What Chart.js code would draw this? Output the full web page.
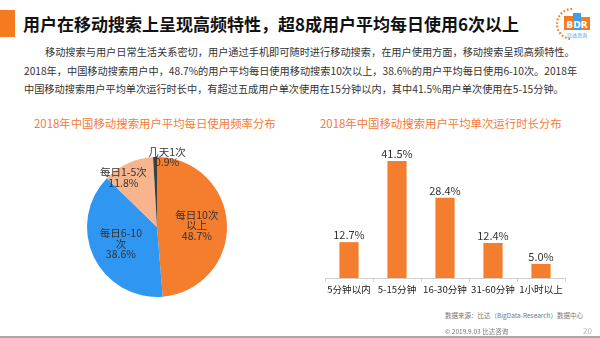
<!DOCTYPE html>
<html>
<head>
<meta charset="utf-8">
<script src="https://cdn.jsdelivr.net/npm/chart.js@4.4.1/dist/chart.umd.min.js"></script>
<style>
  html, body { margin:0; padding:0; background:#fff; }
  body { width:600px; height:338px; position:relative; overflow:hidden; font-family:"Noto Sans CJK SC","Noto Sans",sans-serif; }
  .abs { position:absolute; white-space:nowrap; }
  #bar-block { left:0; top:10px; width:15px; height:27px; background:#F47B20; }
  #title { left:23px; top:12px; font-size:17px; font-weight:bold; color:#111; line-height:24px; }
  #para { left:24px; top:43px; font-size:10.2px; color:#333; line-height:18.5px; }
  .ctitle { font-size:11.4px; color:#F47B3A; line-height:16px; }
  #ptitle { left:34px; top:115px; }
  #btitle { left:320px; top:115px; }
  #pieWrap { left:57px; top:127px; width:200px; height:200px; }
  #barWrap { left:300px; top:135px; width:290px; height:170px; }
  .foot { font-size:6.5px; color:#777; line-height:9px; }
  #src { left:445px; top:311px; }
  #copy { left:445px; top:327px; }
  #page { left:583px; top:325px; font-size:8px; color:#bbb; }
  #bottomline { left:0; top:336px; width:600px; height:2px; background:#a8a8a8; }
</style>
</head>
<body>
<div id="bar-block" class="abs"></div>
<div id="title" class="abs">用户在移动搜索上呈现高频特性，超8成用户平均每日使用6次以上</div>
<svg class="abs" style="left:552px;top:6px" width="44" height="36" viewBox="0 0 44 36">
  <path d="M20 3 A15 15 0 1 0 20 33" fill="none" stroke="#F47B20" stroke-width="2.2" stroke-dasharray="1.6 2"/>
  <rect x="12" y="10" width="9" height="14" fill="#F47B20"/>
  <rect x="21" y="7" width="8" height="17" fill="#3BA0F0"/>
  <rect x="29" y="11" width="9" height="13" fill="#F47B20"/>
  <text x="25" y="22" font-size="9" font-weight="bold" fill="#fff" text-anchor="middle" font-family="DejaVu Sans">BDR</text>
  <text x="25" y="31" font-size="5" fill="#3BA0F0" text-anchor="middle" font-family="Noto Sans CJK SC">比达咨询</text>
</svg>
<div id="para" class="abs"><span style="padding-left:21px">移动搜索与用户日常生活关系密切，用户通过手机即可随时进行移动搜索，在用户使用方面，移动搜索呈现高频特性。</span><br>2018年，中国移动搜索用户中，48.7%的用户平均每日使用移动搜索10次以上，38.6%的用户平均每日使用6-10次。2018年<br>中国移动搜索用户平均单次运行时长中，有超过五成用户单次使用在15分钟以内，其中41.5%用户单次使用在5-15分钟。</div>
<div id="ptitle" class="abs ctitle">2018年中国移动搜索用户平均每日使用频率分布</div>
<div id="btitle" class="abs ctitle">2018年中国移动搜索用户平均单次运行时长分布</div>
<div id="pieWrap" class="abs"><canvas id="pie" width="200" height="200"></canvas></div>
<div id="barWrap" class="abs"><canvas id="bar" width="290" height="170"></canvas></div>
<div id="src" class="abs foot">数据来源：比达（BigData-Research）数据中心</div>
<div id="copy" class="abs foot">© 2019.9.03 比达咨询</div>
<div id="page" class="abs">20</div>
<div id="bottomline" class="abs"></div>
<script>
// ---- data ----
const pieCategories = ['每日10次以上', '每日6-10次', '每日1-5次', '几天1次'];
const pieLabelLines = [['每日10次', '以上'], ['每日6-10', '次'], ['每日1-5次'], ['几天1次']];
const pieValues = [48.7, 38.6, 11.8, 0.9];
const pieColors = ['#F47D2E', '#2F97F2', '#F8B48C', '#3A3F45'];

const barCategories = ['5分钟以内', '5-15分钟', '16-30分钟', '31-60分钟', '1小时以上'];
const barValues = [12.7, 41.5, 28.4, 12.4, 5.0];
const barColor = '#F47D2E';

const FONT = '"Noto Sans CJK SC", "Noto Sans", sans-serif';

// ---- pie labels plugin ----
const pieLabelLayout = [
  { r: 0.57, dx: 0, dy: 0 },
  { r: 0.57, dx: 0, dy: 0 },
  { r: 0.78, dx: -11, dy: 0 },
  { r: 1.0, dx: 12, dy: 0 }
];
const pieLabelPlugin = {
  id: 'pieLabels',
  afterDatasetsDraw(chart) {
    const ctx = chart.ctx;
    const meta = chart.getDatasetMeta(0);
    ctx.save();
    ctx.font = '10.5px ' + FONT;
    ctx.fillStyle = '#333';
    ctx.textAlign = 'center';
    ctx.textBaseline = 'middle';
    meta.data.forEach((arc, i) => {
      const p = arc.getProps(['x', 'y', 'startAngle', 'endAngle', 'outerRadius']);
      const mid = (p.startAngle + p.endAngle) / 2;
      const L = pieLabelLayout[i];
      const cx = p.x + Math.cos(mid) * p.outerRadius * L.r + L.dx;
      const cy = p.y + Math.sin(mid) * p.outerRadius * L.r + L.dy;
      const lines = pieLabelLines[i].concat([pieValues[i].toFixed(1) + '%']);
      const lh = 10.5;
      const y0 = cy - (lines.length - 1) * lh / 2;
      lines.forEach((t, k) => ctx.fillText(t, cx, y0 + k * lh));
    });
    ctx.restore();
  }
};

new Chart(document.getElementById('pie'), {
  type: 'pie',
  data: {
    labels: pieCategories,
    datasets: [{ data: pieValues, backgroundColor: pieColors, borderWidth: 0 }]
  },
  options: {
    responsive: false,
    animation: false,
    layout: { padding: 30 },
    plugins: { legend: { display: false }, tooltip: { enabled: false } }
  },
  plugins: [pieLabelPlugin]
});

// ---- bar value labels ----
const barLabelPlugin = {
  id: 'barLabels',
  afterDatasetsDraw(chart) {
    const ctx = chart.ctx;
    const meta = chart.getDatasetMeta(0);
    ctx.save();
    ctx.font = '11px ' + FONT;
    ctx.fillStyle = '#333';
    ctx.textAlign = 'center';
    ctx.textBaseline = 'bottom';
    meta.data.forEach((bar, i) => {
      ctx.fillText(barValues[i].toFixed(1) + '%', bar.x, bar.y - 2);
    });
    ctx.restore();
  }
};

new Chart(document.getElementById('bar'), {
  type: 'bar',
  data: {
    labels: barCategories,
    datasets: [{ data: barValues, backgroundColor: barColor, barPercentage: 0.4, categoryPercentage: 1.0 }]
  },
  options: {
    responsive: false,
    animation: false,
    layout: { padding: { left: 25, right: 25, top: 16, bottom: 7 } },
    plugins: { legend: { display: false }, tooltip: { enabled: false } },
    scales: {
      x: {
        afterFit(scale) { scale.height = 20; },
        grid: { display: true, drawOnChartArea: false, drawTicks: true, tickLength: 4, color: '#d0d0d0', offset: true },
        border: { display: true, color: '#d0d0d0' },
        ticks: { color: '#222', font: { size: 9.6, family: FONT }, padding: 2, maxRotation: 0, autoSkip: false }
      },
      y: { display: false, min: 0, max: 45 }
    }
  },
  plugins: [barLabelPlugin]
});
</script>
</body>
</html>
